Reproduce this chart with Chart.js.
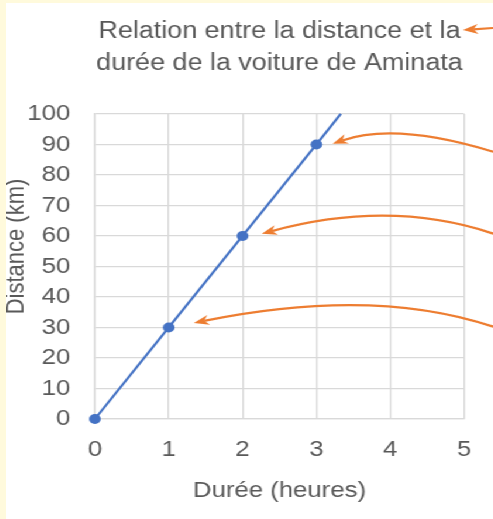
<!DOCTYPE html>
<html>
<head>
<meta charset="utf-8">
<script src="https://cdn.jsdelivr.net/npm/chart.js@4.4.1/dist/chart.umd.min.js"></script>
<style>
  html, body { margin: 0; padding: 0; background: #FFFADC; width: 493px; height: 519px; overflow: hidden; }
  /* le graphique d'origine est legerement etire en largeur */
  #wrap { position: absolute; left: 6px; top: 3px; width: 416px; height: 516px; background: #fff;
          transform: scaleX(1.17); transform-origin: 0 0; }
</style>
</head>
<body>
<div id="wrap"><canvas id="c" width="416" height="516"></canvas></div>
<script>
// Données : durée (heures) et distance (km)
const durees = [0, 1, 2, 3, 3.33];
const distances = [0, 30, 60, 90, 100];
const marqueurs = [5, 5, 5, 5, 0]; // pas de marqueur au bout du trait

const titre = ['Relation entre la distance et la', 'durée de la voiture de Aminata'];
const titreX = 'Durée (heures)';
const titreY = 'Distance (km)';

const police = 'Liberation Sans, Arial, sans-serif';
const gris = '#595959';
const grille = '#D9D9D9';
const bleu = '#4472C4';
const orange = '#ED7D31';

// flèches d'annotation (en coordonnées du graphique)
const fleches = [
  { from: [5.45, 87.2], ctrl: [4.09, 97.5], tip: [3.22, 90.2] },
  { from: [5.45, 60.3], ctrl: [4.03, 72.3], tip: [2.26, 60.7] },
  { from: [5.45, 29.8], ctrl: [3.81, 43.6], tip: [1.34, 31.5] }
];

function pointe(ctx, tx, ty, ang) {
  const L = 13, W = 5;
  const cx = Math.cos(ang), cy = Math.sin(ang);
  ctx.beginPath();
  ctx.moveTo(tx, ty);
  ctx.lineTo(tx - L * cx - W * cy, ty - L * cy + W * cx);
  ctx.lineTo(tx - 0.7 * L * cx, ty - 0.7 * L * cy);
  ctx.lineTo(tx - L * cx + W * cy, ty - L * cy - W * cx);
  ctx.closePath();
  ctx.fill();
}

const flechesPlugin = {
  id: 'fleches',
  afterDraw(chart) {
    const { ctx, scales: { x, y }, chartArea } = chart;
    ctx.save();
    // titre de l'axe vertical (un peu au-dessus du centre, comme l'original)
    ctx.fillStyle = gris;
    ctx.font = '22px ' + police;
    ctx.textAlign = 'center';
    ctx.textBaseline = 'middle';
    ctx.translate(9, 243.5);
    ctx.rotate(-Math.PI / 2);
    ctx.fillText(titreY, 0, 0);
    ctx.restore();

    ctx.save();
    ctx.strokeStyle = orange;
    ctx.fillStyle = orange;
    ctx.lineWidth = 2.2;
    fleches.forEach(f => {
      const sx = x.getPixelForValue(f.from[0]), sy = y.getPixelForValue(f.from[1]);
      const cx = x.getPixelForValue(f.ctrl[0]), cy = y.getPixelForValue(f.ctrl[1]);
      const tx = x.getPixelForValue(f.tip[0]), ty = y.getPixelForValue(f.tip[1]);
      const ang = Math.atan2(ty - cy, tx - cx);
      const ex = tx - 9 * Math.cos(ang), ey = ty - 9 * Math.sin(ang);
      ctx.beginPath();
      ctx.moveTo(sx, sy);
      ctx.quadraticCurveTo(cx, cy, ex, ey);
      ctx.stroke();
      pointe(ctx, tx, ty, ang);
    });
    // petite flèche à côté du titre
    const tx = chartArea.right - 1, ty = 27;
    const ang = Math.atan2(ty - 25, tx - chart.width);
    ctx.beginPath();
    ctx.moveTo(chart.width, 25);
    ctx.lineTo(tx - 9 * Math.cos(ang), ty - 9 * Math.sin(ang));
    ctx.stroke();
    pointe(ctx, tx, ty, ang);
    ctx.restore();
  }
};

new Chart(document.getElementById('c'), {
  type: 'scatter',
  data: {
    datasets: [{
      data: durees.map((d, i) => ({ x: d, y: distances[i] })),
      showLine: true,
      borderColor: bleu,
      backgroundColor: bleu,
      borderWidth: 2.2,
      pointRadius: marqueurs,
      pointBorderWidth: 0,
      clip: 8
    }]
  },
  options: {
    responsive: false,
    animation: false,
    layout: { padding: { right: 24.5 } },
    plugins: {
      legend: { display: false },
      tooltip: { enabled: false },
      title: {
        display: true,
        text: titre,
        fullSize: false,
        color: gris,
        font: { family: police, size: 23, weight: 'normal', lineHeight: 1.39 },
        padding: { top: 13, bottom: 34 }
      }
    },
    scales: {
      x: {
        type: 'linear', min: 0, max: 5,
        afterFit: s => { s.height = 100; },
        ticks: { stepSize: 1, color: gris, padding: 18, font: { family: police, size: 22 } },
        grid: { color: grille, lineWidth: 1.3, drawTicks: false },
        border: { color: grille, width: 1.3 },
        title: { display: true, text: titreX, color: gris, padding: { top: 0, bottom: 15 },
                 font: { family: police, size: 22, lineHeight: 1.2 } }
      },
      y: {
        min: 0, max: 100,
        afterFit: s => { s.width = 76; },
        ticks: { stepSize: 10, color: gris, padding: 21, font: { family: police, size: 22 } },
        grid: { color: grille, lineWidth: 1.3, drawTicks: false },
        border: { color: grille, width: 1.3 },
        title: { display: false }
      }
    }
  },
  plugins: [flechesPlugin]
});
</script>
</body>
</html>
